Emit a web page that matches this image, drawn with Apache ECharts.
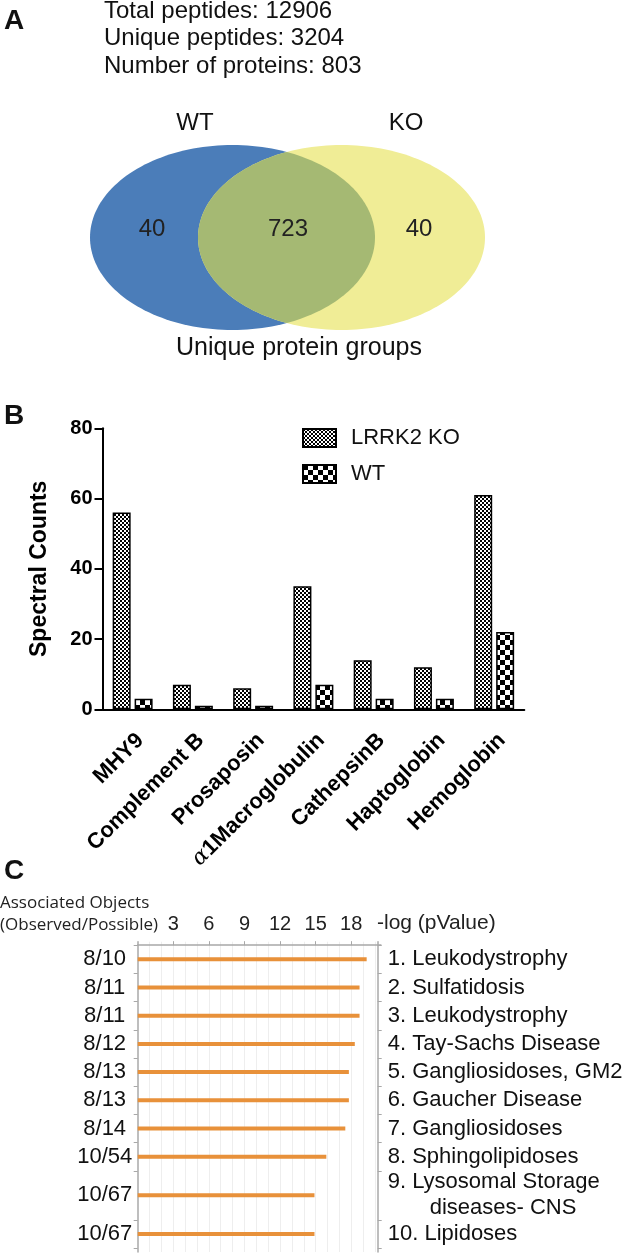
<!DOCTYPE html>
<html><head><meta charset="utf-8">
<script src="https://cdn.jsdelivr.net/npm/echarts@6/dist/echarts.min.js"></script>
<style>html,body{margin:0;padding:0;background:#fff}#c{width:630px;height:1255px}</style>
</head><body><div id="c"></div>
<script>
// ---------- data ----------
const panelAStats = ['Total peptides: 12906', 'Unique peptides: 3204', 'Number of proteins: 803'];
const vennSets = ['WT', 'KO'];
const vennCounts = [40, 723, 40]; // WT only, shared, KO only
const vennCaption = 'Unique protein groups';

const proteins = ['MHY9', 'Complement B', 'Prosaposin', 'α1Macroglobulin', 'CathepsinB', 'Haptoglobin', 'Hemoglobin'];
const koCounts = [56, 7, 6, 35, 14, 12, 61];
const wtCounts = [3, 1, 1, 7, 3, 3, 22];
const seriesNames = ['LRRK2 KO', 'WT'];

const fractions = ['8/10', '8/11', '8/11', '8/12', '8/13', '8/13', '8/14', '10/54', '10/67', '10/67'];
const diseases = ['1. Leukodystrophy', '2. Sulfatidosis', '3. Leukodystrophy', '4. Tay-Sachs Disease',
  '5. Gangliosidoses, GM2', '6. Gaucher Disease', '7. Gangliosidoses', '8. Sphingolipidoses',
  '9. Lysosomal Storage\ndiseases- CNS', '10. Lipidoses'];
const negLogP = [19.3, 18.7, 18.7, 18.3, 17.8, 17.8, 17.5, 15.9, 14.9, 14.9];
const pTicks = [3, 6, 9, 12, 15, 18];

// ---------- helpers ----------
const FONT = "'Liberation Sans', Arial, Helvetica, sans-serif";
function makePattern(cell, size) {
  const c = document.createElement('canvas');
  c.width = size; c.height = size;
  const g = c.getContext('2d');
  g.fillStyle = '#fff'; g.fillRect(0, 0, size, size);
  g.fillStyle = '#000';
  for (let y = 0; y < size; y += cell)
    for (let x = 0; x < size; x += cell)
      if (((x / cell) + (y / cell)) % 2 === 0) g.fillRect(x, y, cell, cell);
  return { image: c, repeat: 'repeat' };
}
const koPattern = makePattern(2, 4);
const wtPattern = makePattern(5, 10);

// rows of panel C: a two-line label gets a taller row
const rowWeights = diseases.map(d => 1 + 0.74 * (d.split('\n').length - 1));
const rowCenters = [], rowBounds = [0];
let acc = 0;
rowWeights.forEach(w => { rowCenters.push(acc + w / 2); acc += w; rowBounds.push(acc); });
const yMinC = -0.124, yMaxC = acc + 0.14;
function idxOf(v) { return rowCenters.findIndex(c => Math.abs(c - v) < 1e-6); }

// venn shapes
const vc = { cy: 237.5, ry: 92.5, bx: 232.5, brx: 142.5, yx: 341.5, yrx: 143.5 };
function ellipsePts(cx, cy, rx, ry) {
  const p = []; for (let i = 0; i < 180; i++) { const t = i / 180 * 2 * Math.PI; p.push([cx + rx * Math.cos(t), cy + ry * Math.sin(t)]); } return p;
}
function lensPts() {
  const s0 = (vc.yx - vc.bx) / (vc.brx + vc.yrx);
  const yMax = vc.ry * Math.sqrt(1 - s0 * s0);
  const right = [], left = [];
  for (let i = 0; i <= 80; i++) {
    const dy = -yMax + 2 * yMax * i / 80;
    const s = Math.sqrt(Math.max(0, 1 - (dy / vc.ry) ** 2));
    right.push([vc.bx + vc.brx * s, vc.cy + dy]);
    left.push([vc.yx - vc.yrx * s, vc.cy + dy]);
  }
  return right.concat(left.reverse());
}

const graphics = [
  { type: 'text', left: 4, top: 7, style: { text: 'A', font: `bold 28px ${FONT}`, fill: '#111' } },
  { type: 'text', left: 4, top: 402, style: { text: 'B', font: `bold 28px ${FONT}`, fill: '#111' } },
  { type: 'text', left: 4, top: 857, style: { text: 'C', font: `bold 28px ${FONT}`, fill: '#111' } },
  { type: 'polygon', shape: { points: ellipsePts(vc.bx, vc.cy, vc.brx, vc.ry) }, style: { fill: '#4b7db9' } },
  { type: 'polygon', shape: { points: ellipsePts(vc.yx, vc.cy, vc.yrx, vc.ry) }, style: { fill: '#f0ed96' } },
  { type: 'polygon', shape: { points: lensPts() }, style: { fill: '#a5b973' } },
  { type: 'text', x: 195, y: 123, style: { text: vennSets[0], font: `24px ${FONT}`, fill: '#111', align: 'center', verticalAlign: 'middle' } },
  { type: 'text', x: 406, y: 123, style: { text: vennSets[1], font: `24px ${FONT}`, fill: '#111', align: 'center', verticalAlign: 'middle' } },
  { type: 'text', x: 152, y: 229, style: { text: String(vennCounts[0]), font: `24px ${FONT}`, fill: '#222', align: 'center', verticalAlign: 'middle' } },
  { type: 'text', x: 288, y: 229, style: { text: String(vennCounts[1]), font: `24px ${FONT}`, fill: '#222', align: 'center', verticalAlign: 'middle' } },
  { type: 'text', x: 419, y: 229, style: { text: String(vennCounts[2]), font: `24px ${FONT}`, fill: '#222', align: 'center', verticalAlign: 'middle' } },
  { type: 'text', x: 299, y: 348, style: { text: vennCaption, font: `25px ${FONT}`, fill: '#111', align: 'center', verticalAlign: 'middle' } },
  { type: 'text', x: 0, y: 903, style: { text: 'Associated Objects', font: `17px 'Open Sans', sans-serif`, fill: '#222', verticalAlign: 'middle' } },
  { type: 'text', x: 0, y: 925, style: { text: '(Observed/Possible)', font: `17px 'Open Sans', sans-serif`, fill: '#222', verticalAlign: 'middle' } },
  { type: 'text', x: 377, y: 923, style: { text: '-log (pValue)', font: `21px ${FONT}`, fill: '#222', verticalAlign: 'middle' } }
];
panelAStats.forEach((t, i) => graphics.push({ type: 'text', x: 104, y: 11 + i * 27.5,
  style: { text: t, font: `24px ${FONT}`, fill: '#111', verticalAlign: 'middle' } }));

const chart = echarts.init(document.getElementById('c'), null, { renderer: 'canvas' });
chart.setOption({
  animation: false,
  textStyle: { fontFamily: FONT },
  graphic: graphics,
  legend: {
    data: seriesNames, orient: 'vertical', left: 297, top: 422,
    itemWidth: 33, itemHeight: 18, itemGap: 14, icon: 'rect',
    textStyle: { fontSize: 22, color: '#111', fontFamily: FONT, padding: [0, 0, 0, 10] }
  },
  grid: [
    { left: 102.5, top: 428.3, width: 421.8, height: 281 },
    { left: 137.7, top: 941.7, width: 243.2, height: 310.3 }
  ],
  xAxis: [
    {
      gridIndex: 0, type: 'category', data: proteins,
      axisLine: { lineStyle: { color: '#000', width: 2 } },
      axisTick: { alignWithLabel: true, length: 8, lineStyle: { color: '#000', width: 2 } },
      axisLabel: {
        rotate: 45, interval: 0, margin: 20, verticalAlign: 'top', color: '#000',
        formatter: v => v.charAt(0) === 'α' ? '{g|α}{b|' + v.slice(1) + '}' : '{b|' + v + '}',
        rich: {
          b: { fontFamily: FONT, fontWeight: 'bold', fontSize: 22, color: '#000' },
          g: { fontFamily: "'DejaVu Serif', serif", fontStyle: 'italic', fontSize: 22, color: '#000' }
        }
      }
    },
    {
      gridIndex: 1, type: 'value', position: 'top', min: 0, max: 20.5, interval: 3,
      axisLine: { show: true, lineStyle: { color: '#a8a8a8', width: 1.5 } },
      axisTick: { show: true, length: 4, customValues: pTicks, lineStyle: { color: '#a8a8a8' } },
      axisLabel: { customValues: pTicks, fontSize: 20, color: '#222', margin: 7 },
      splitLine: { show: true, lineStyle: { color: '#eeeeee', width: 1 } },
      minorTick: { show: false, splitNumber: 3 },
      minorSplitLine: { show: true, lineStyle: { color: '#eeeeee', width: 1 } }
    }
  ],
  yAxis: [
    {
      gridIndex: 0, type: 'value', min: 0, max: 80, interval: 20,
      name: 'Spectral Counts', nameLocation: 'middle', nameGap: 51,
      nameTextStyle: { fontSize: 23, fontWeight: 'bold', color: '#000', fontFamily: FONT },
      axisLine: { show: true, lineStyle: { color: '#000', width: 2 } },
      axisTick: { show: true, length: 8, lineStyle: { color: '#000', width: 2 } },
      axisLabel: { fontSize: 20, fontWeight: 'bold', color: '#000', margin: 10 },
      splitLine: { show: false }
    },
    {
      gridIndex: 1, type: 'value', inverse: true, min: yMinC, max: yMaxC, position: 'left',
      axisLine: { show: true, lineStyle: { color: '#a8a8a8', width: 1.5 } },
      axisTick: { show: true, length: 4, customValues: rowBounds, lineStyle: { color: '#a8a8a8' } },
      axisLabel: { customValues: rowCenters, align: 'center', margin: 33, fontSize: 22, color: '#111',
        showMinLabel: true, showMaxLabel: true,
        formatter: v => fractions[idxOf(v)] || '' },
      splitLine: { show: false }
    },
    {
      gridIndex: 1, type: 'value', inverse: true, min: yMinC, max: yMaxC, position: 'right', offset: -3.2,
      axisLine: { show: true, lineStyle: { color: '#a8a8a8', width: 1.5 } },
      axisTick: { show: true, length: 4, customValues: rowBounds, lineStyle: { color: '#a8a8a8' } },
      axisLabel: { customValues: rowCenters, align: 'left', margin: 10, fontSize: 22, color: '#111',
        showMinLabel: true, showMaxLabel: true, hideOverlap: false,
        formatter: v => {
          const t = diseases[idxOf(v)] || '';
          const parts = t.split('\n');
          return parts.length > 1 ? '{a|' + parts[0] + '}\n{i|' + parts[1] + '}' : '{a|' + t + '}';
        },
        rich: {
          a: { fontSize: 22, color: '#111', fontFamily: FONT, lineHeight: 26 },
          i: { fontSize: 22, color: '#111', fontFamily: FONT, lineHeight: 26, padding: [0, 0, 0, 42] }
        }
      },
      splitLine: { show: false }
    }
  ],
  series: [
    {
      name: seriesNames[0], type: 'bar', xAxisIndex: 0, yAxisIndex: 0, data: koCounts,
      barWidth: 18, barGap: '22%',
      itemStyle: { color: koPattern, borderColor: '#000', borderWidth: 1.5 }
    },
    {
      name: seriesNames[1], type: 'bar', xAxisIndex: 0, yAxisIndex: 0, data: wtCounts,
      barWidth: 18, barGap: '22%',
      itemStyle: { color: wtPattern, borderColor: '#000', borderWidth: 1.5 }
    },
    {
      type: 'custom', xAxisIndex: 1, yAxisIndex: 1,
      data: negLogP.map((v, i) => [v, rowCenters[i]]),
      encode: { x: 0, y: 1 },
      renderItem: (params, api) => {
        const p0 = api.coord([0, api.value(1)]);
        const p1 = api.coord([api.value(0), api.value(1)]);
        return { type: 'rect', shape: { x: p0[0], y: p0[1] - 2, width: p1[0] - p0[0], height: 4 },
          style: { fill: '#e8913a' } };
      }
    }
  ]
});
</script></body></html>
